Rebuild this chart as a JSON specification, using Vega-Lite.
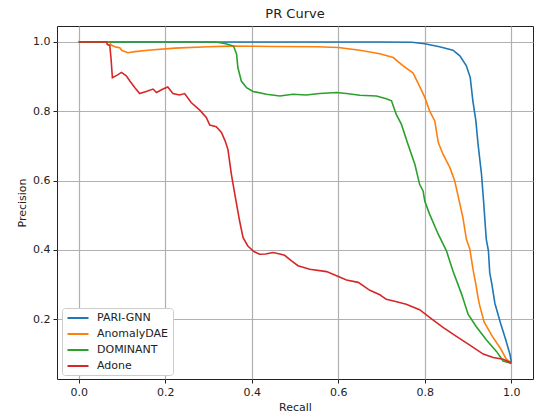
{
  "$schema": "https://vega.github.io/schema/vega-lite/v6.json",
  "autosize": "none",
  "width": 476,
  "height": 353,
  "padding": {"left": 57, "top": 26, "right": 1, "bottom": 35},
  "background": "white",
  "title": {"text": "PR Curve", "fontSize": 13, "font": "DejaVu Sans", "fontWeight": "normal", "color": "#222", "offset": 5, "anchor": "middle"},
  "config": {
    "view": {"stroke": "#222", "strokeWidth": 1},
    "axis": {
      "labelFont": "DejaVu Sans", "titleFont": "DejaVu Sans",
      "labelFontSize": 11, "titleFontSize": 11, "titleFontWeight": "normal",
      "labelColor": "#222", "titleColor": "#222",
      "gridColor": "#b0b0b0", "gridWidth": 1.2, "gridOpacity": 1,
      "tickColor": "#222", "tickSize": 4, "domain": false, "labelPadding": 3
    },
    "legend": {"labelFont": "DejaVu Sans"}
  },
  "data": {"values": [
    {"s": "PARI-GNN", "r": 0.0, "p": 1.0},
    {"s": "PARI-GNN", "r": 0.70, "p": 1.0},
    {"s": "PARI-GNN", "r": 0.77, "p": 0.999},
    {"s": "PARI-GNN", "r": 0.80, "p": 0.995},
    {"s": "PARI-GNN", "r": 0.834, "p": 0.986},
    {"s": "PARI-GNN", "r": 0.865, "p": 0.976},
    {"s": "PARI-GNN", "r": 0.881, "p": 0.960},
    {"s": "PARI-GNN", "r": 0.896, "p": 0.931},
    {"s": "PARI-GNN", "r": 0.905, "p": 0.897},
    {"s": "PARI-GNN", "r": 0.911, "p": 0.830},
    {"s": "PARI-GNN", "r": 0.918, "p": 0.772},
    {"s": "PARI-GNN", "r": 0.923, "p": 0.705},
    {"s": "PARI-GNN", "r": 0.931, "p": 0.618},
    {"s": "PARI-GNN", "r": 0.936, "p": 0.537},
    {"s": "PARI-GNN", "r": 0.939, "p": 0.483},
    {"s": "PARI-GNN", "r": 0.942, "p": 0.431},
    {"s": "PARI-GNN", "r": 0.947, "p": 0.397},
    {"s": "PARI-GNN", "r": 0.950, "p": 0.334},
    {"s": "PARI-GNN", "r": 0.955, "p": 0.300},
    {"s": "PARI-GNN", "r": 0.962, "p": 0.245},
    {"s": "PARI-GNN", "r": 0.975, "p": 0.188},
    {"s": "PARI-GNN", "r": 0.987, "p": 0.140},
    {"s": "PARI-GNN", "r": 0.997, "p": 0.097},
    {"s": "PARI-GNN", "r": 1.0, "p": 0.074},

    {"s": "AnomalyDAE", "r": 0.0, "p": 1.0},
    {"s": "AnomalyDAE", "r": 0.072, "p": 1.0},
    {"s": "AnomalyDAE", "r": 0.075, "p": 0.991},
    {"s": "AnomalyDAE", "r": 0.087, "p": 0.985},
    {"s": "AnomalyDAE", "r": 0.095, "p": 0.983},
    {"s": "AnomalyDAE", "r": 0.100, "p": 0.975},
    {"s": "AnomalyDAE", "r": 0.114, "p": 0.969},
    {"s": "AnomalyDAE", "r": 0.13, "p": 0.972},
    {"s": "AnomalyDAE", "r": 0.16, "p": 0.976},
    {"s": "AnomalyDAE", "r": 0.222, "p": 0.982},
    {"s": "AnomalyDAE", "r": 0.30, "p": 0.986},
    {"s": "AnomalyDAE", "r": 0.35, "p": 0.988},
    {"s": "AnomalyDAE", "r": 0.45, "p": 0.987},
    {"s": "AnomalyDAE", "r": 0.55, "p": 0.986},
    {"s": "AnomalyDAE", "r": 0.60, "p": 0.984},
    {"s": "AnomalyDAE", "r": 0.65, "p": 0.976},
    {"s": "AnomalyDAE", "r": 0.696, "p": 0.966},
    {"s": "AnomalyDAE", "r": 0.727, "p": 0.955},
    {"s": "AnomalyDAE", "r": 0.750, "p": 0.931},
    {"s": "AnomalyDAE", "r": 0.773, "p": 0.910},
    {"s": "AnomalyDAE", "r": 0.788, "p": 0.872},
    {"s": "AnomalyDAE", "r": 0.800, "p": 0.840},
    {"s": "AnomalyDAE", "r": 0.811, "p": 0.801},
    {"s": "AnomalyDAE", "r": 0.823, "p": 0.772},
    {"s": "AnomalyDAE", "r": 0.831, "p": 0.710},
    {"s": "AnomalyDAE", "r": 0.842, "p": 0.676},
    {"s": "AnomalyDAE", "r": 0.858, "p": 0.637},
    {"s": "AnomalyDAE", "r": 0.869, "p": 0.599},
    {"s": "AnomalyDAE", "r": 0.877, "p": 0.555},
    {"s": "AnomalyDAE", "r": 0.888, "p": 0.493},
    {"s": "AnomalyDAE", "r": 0.896, "p": 0.431},
    {"s": "AnomalyDAE", "r": 0.904, "p": 0.402},
    {"s": "AnomalyDAE", "r": 0.912, "p": 0.339},
    {"s": "AnomalyDAE", "r": 0.918, "p": 0.300},
    {"s": "AnomalyDAE", "r": 0.923, "p": 0.262},
    {"s": "AnomalyDAE", "r": 0.927, "p": 0.238},
    {"s": "AnomalyDAE", "r": 0.937, "p": 0.192},
    {"s": "AnomalyDAE", "r": 0.956, "p": 0.150},
    {"s": "AnomalyDAE", "r": 0.975, "p": 0.115},
    {"s": "AnomalyDAE", "r": 0.988, "p": 0.085},
    {"s": "AnomalyDAE", "r": 1.0, "p": 0.073},

    {"s": "DOMINANT", "r": 0.0, "p": 1.0},
    {"s": "DOMINANT", "r": 0.317, "p": 1.0},
    {"s": "DOMINANT", "r": 0.340, "p": 0.995},
    {"s": "DOMINANT", "r": 0.358, "p": 0.988},
    {"s": "DOMINANT", "r": 0.365, "p": 0.965},
    {"s": "DOMINANT", "r": 0.368, "p": 0.926},
    {"s": "DOMINANT", "r": 0.376, "p": 0.887},
    {"s": "DOMINANT", "r": 0.388, "p": 0.868},
    {"s": "DOMINANT", "r": 0.403, "p": 0.857},
    {"s": "DOMINANT", "r": 0.434, "p": 0.849},
    {"s": "DOMINANT", "r": 0.465, "p": 0.844},
    {"s": "DOMINANT", "r": 0.495, "p": 0.849},
    {"s": "DOMINANT", "r": 0.526, "p": 0.847},
    {"s": "DOMINANT", "r": 0.557, "p": 0.851},
    {"s": "DOMINANT", "r": 0.596, "p": 0.854},
    {"s": "DOMINANT", "r": 0.619, "p": 0.851},
    {"s": "DOMINANT", "r": 0.650, "p": 0.846},
    {"s": "DOMINANT", "r": 0.688, "p": 0.844},
    {"s": "DOMINANT", "r": 0.711, "p": 0.836},
    {"s": "DOMINANT", "r": 0.723, "p": 0.830},
    {"s": "DOMINANT", "r": 0.730, "p": 0.805},
    {"s": "DOMINANT", "r": 0.734, "p": 0.791},
    {"s": "DOMINANT", "r": 0.746, "p": 0.762},
    {"s": "DOMINANT", "r": 0.761, "p": 0.705},
    {"s": "DOMINANT", "r": 0.777, "p": 0.647},
    {"s": "DOMINANT", "r": 0.788, "p": 0.589},
    {"s": "DOMINANT", "r": 0.796, "p": 0.570},
    {"s": "DOMINANT", "r": 0.800, "p": 0.540},
    {"s": "DOMINANT", "r": 0.811, "p": 0.503},
    {"s": "DOMINANT", "r": 0.831, "p": 0.445},
    {"s": "DOMINANT", "r": 0.850, "p": 0.397},
    {"s": "DOMINANT", "r": 0.865, "p": 0.339},
    {"s": "DOMINANT", "r": 0.885, "p": 0.272},
    {"s": "DOMINANT", "r": 0.900, "p": 0.214},
    {"s": "DOMINANT", "r": 0.919, "p": 0.178},
    {"s": "DOMINANT", "r": 0.942, "p": 0.140},
    {"s": "DOMINANT", "r": 0.966, "p": 0.106},
    {"s": "DOMINANT", "r": 0.981, "p": 0.079},
    {"s": "DOMINANT", "r": 1.0, "p": 0.072},

    {"s": "Adone", "r": 0.0, "p": 1.0},
    {"s": "Adone", "r": 0.065, "p": 1.0},
    {"s": "Adone", "r": 0.066, "p": 0.993},
    {"s": "Adone", "r": 0.072, "p": 0.99},
    {"s": "Adone", "r": 0.075, "p": 0.95},
    {"s": "Adone", "r": 0.078, "p": 0.897},
    {"s": "Adone", "r": 0.090, "p": 0.905},
    {"s": "Adone", "r": 0.099, "p": 0.912},
    {"s": "Adone", "r": 0.110, "p": 0.902},
    {"s": "Adone", "r": 0.118, "p": 0.888},
    {"s": "Adone", "r": 0.130, "p": 0.868},
    {"s": "Adone", "r": 0.141, "p": 0.851},
    {"s": "Adone", "r": 0.156, "p": 0.857},
    {"s": "Adone", "r": 0.172, "p": 0.864},
    {"s": "Adone", "r": 0.180, "p": 0.854},
    {"s": "Adone", "r": 0.195, "p": 0.864},
    {"s": "Adone", "r": 0.206, "p": 0.870},
    {"s": "Adone", "r": 0.218, "p": 0.851},
    {"s": "Adone", "r": 0.233, "p": 0.847},
    {"s": "Adone", "r": 0.245, "p": 0.851},
    {"s": "Adone", "r": 0.260, "p": 0.825},
    {"s": "Adone", "r": 0.280, "p": 0.803},
    {"s": "Adone", "r": 0.295, "p": 0.782},
    {"s": "Adone", "r": 0.303, "p": 0.760},
    {"s": "Adone", "r": 0.318, "p": 0.755},
    {"s": "Adone", "r": 0.330, "p": 0.739},
    {"s": "Adone", "r": 0.338, "p": 0.716},
    {"s": "Adone", "r": 0.345, "p": 0.690},
    {"s": "Adone", "r": 0.353, "p": 0.618},
    {"s": "Adone", "r": 0.361, "p": 0.560},
    {"s": "Adone", "r": 0.372, "p": 0.483},
    {"s": "Adone", "r": 0.380, "p": 0.435},
    {"s": "Adone", "r": 0.391, "p": 0.411},
    {"s": "Adone", "r": 0.405, "p": 0.395},
    {"s": "Adone", "r": 0.418, "p": 0.387},
    {"s": "Adone", "r": 0.432, "p": 0.388},
    {"s": "Adone", "r": 0.449, "p": 0.392},
    {"s": "Adone", "r": 0.465, "p": 0.388},
    {"s": "Adone", "r": 0.476, "p": 0.384},
    {"s": "Adone", "r": 0.492, "p": 0.368},
    {"s": "Adone", "r": 0.507, "p": 0.354},
    {"s": "Adone", "r": 0.534, "p": 0.344},
    {"s": "Adone", "r": 0.573, "p": 0.337},
    {"s": "Adone", "r": 0.596, "p": 0.325},
    {"s": "Adone", "r": 0.619, "p": 0.313},
    {"s": "Adone", "r": 0.646, "p": 0.306},
    {"s": "Adone", "r": 0.673, "p": 0.283},
    {"s": "Adone", "r": 0.696, "p": 0.270},
    {"s": "Adone", "r": 0.711, "p": 0.257},
    {"s": "Adone", "r": 0.735, "p": 0.250},
    {"s": "Adone", "r": 0.757, "p": 0.243},
    {"s": "Adone", "r": 0.788, "p": 0.227},
    {"s": "Adone", "r": 0.811, "p": 0.205},
    {"s": "Adone", "r": 0.842, "p": 0.176},
    {"s": "Adone", "r": 0.873, "p": 0.150},
    {"s": "Adone", "r": 0.904, "p": 0.125},
    {"s": "Adone", "r": 0.935, "p": 0.099},
    {"s": "Adone", "r": 0.958, "p": 0.089},
    {"s": "Adone", "r": 0.981, "p": 0.084},
    {"s": "Adone", "r": 1.0, "p": 0.073}
  ]},
  "mark": {"type": "line", "strokeWidth": 1.6, "clip": true},
  "encoding": {
    "x": {
      "field": "r", "type": "quantitative",
      "scale": {"domain": [-0.05, 1.05], "nice": false, "zero": false},
      "axis": {"values": [0, 0.2, 0.4, 0.6, 0.8, 1.0], "format": ".1f", "title": "Recall", "titlePadding": 4}
    },
    "y": {
      "field": "p", "type": "quantitative",
      "scale": {"domain": [0.027, 1.046], "nice": false, "zero": false},
      "axis": {"values": [0.2, 0.4, 0.6, 0.8, 1.0], "format": ".1f", "title": "Precision", "titlePadding": 5}
    },
    "color": {
      "field": "s", "type": "nominal",
      "scale": {"domain": ["PARI-GNN", "AnomalyDAE", "DOMINANT", "Adone"], "range": ["#1f77b4", "#ff7f0e", "#2ca02c", "#d62728"]},
      "legend": {
        "title": null, "orient": "none", "legendX": 5, "legendY": 282,
        "symbolType": "M-2.1,0H2.1", "symbolSize": 100, "symbolStrokeWidth": 2, "symbolOffset": 6,
        "labelFontSize": 11, "labelColor": "#222", "labelOffset": 13,
        "rowPadding": 5, "padding": 4,
        "fillColor": "white", "strokeColor": "#cccccc", "cornerRadius": 3
      }
    }
  }
}
